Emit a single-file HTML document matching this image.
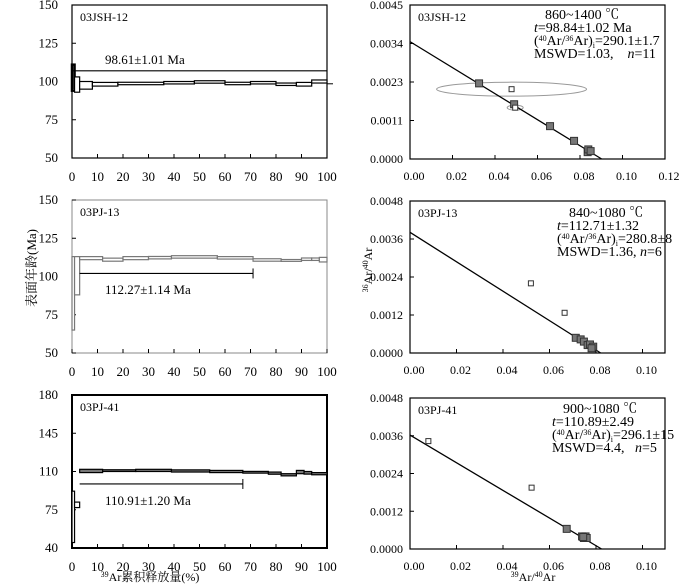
<!DOCTYPE html>
<html><head><meta charset="utf-8">
<style>
html,body{margin:0;padding:0;background:#fff;}
svg{display:block;font-family:"Liberation Serif","Noto Serif CJK SC",serif;}
</style></head>
<body>
<svg id="c" width="700" height="584" viewBox="0 0 700 584" xmlns="http://www.w3.org/2000/svg">
<text x="36" y="268" font-size="13" text-anchor="middle" transform="rotate(-90 36 268)" font-family="Liberation Serif,Noto Serif CJK SC,serif">表面年龄(Ma)</text>
<text x="372" y="270" font-size="12" text-anchor="middle" transform="rotate(-90 372 270)"><tspan font-size="8" dy="-4">36</tspan><tspan dy="4">Ar/</tspan><tspan font-size="8" dy="-4">40</tspan><tspan dy="4">Ar</tspan></text>
<text x="150" y="581" font-size="12" text-anchor="middle"><tspan font-size="8" dy="-4">39</tspan><tspan dy="4">Ar累积释放量(%)</tspan></text>
<text x="533" y="581" font-size="12" text-anchor="middle"><tspan font-size="8" dy="-4">39</tspan><tspan dy="4">Ar/</tspan><tspan font-size="8" dy="-4">40</tspan><tspan dy="4">Ar</tspan></text>
</svg>
<script>
// ---- Spectrum data ----
const spec1Bounds=[0,1,3,8,18,36,48,60,70,80,88,94,100];
const spec1Ages=[102.5,98,97.5,98.2,98.7,99.2,99.7,98.7,99.2,98.2,98.2,100];
const spec1Errs=[8.5,5,2.5,1.2,0.8,0.8,0.8,0.8,0.8,0.8,1.2,1];
const spec1Ticks=[50,75,100,125,150];
const spec1Plateau=[0,100,107];
const spec3Bounds=[0,1,3,12,20,30,39,57,71,82,90,94,97,100];
const spec3Ages=[89,100.5,112,111,112,112.3,112.8,112.2,110.8,110.5,111.3,111.3,111];
const spec3Errs=[24,12.5,1,1,1,0.8,0.8,0.8,0.8,0.6,0.8,0.8,1.5];
const spec3Ticks=[50,75,100,125,150];
const spec3Plateau=[3,71,102];
const spec5Bounds=[0,1,3,12,25,39,54,67,77,82,88,91,94,100];
const spec5Ages=[68.5,79.5,110.5,110.8,111,110.5,110,109.3,108.5,107,109.5,108.8,108];
const spec5Errs=[23.5,2.5,1.5,0.8,1,1,1,0.8,1,1,1.5,1.2,1];
const spec5Ticks=[40,75,110,145,180];
const spec5Plateau=[3,67,98.6];
const specXTicks=[0,10,20,30,40,50,60,70,80,90,100];
// ---- Isochron data ----
const iso2X=[0.0325,0.0478,0.049,0.0495,0.0659,0.0772,0.0836,0.0839,0.085];
const iso2Y=[0.00221,0.00204,0.0016,0.0015,0.00096,0.00053,0.0002,0.00028,0.00023];
const iso2Open=[0,1,0,1,0,0,0,0,0];
const iso2Line=[0.00343,0.0902];
const iso2XTicks=[0,0.02,0.04,0.06,0.08,0.10,0.12];
const iso2YTicks=[0,0.0011,0.0023,0.0034,0.0045];
const iso4X=[0.052,0.0665,0.0713,0.0734,0.0748,0.0764,0.0774,0.0788,0.0781];
const iso4Y=[0.0022,0.00127,0.00048,0.00043,0.00036,0.00025,0.00027,0.0002,0.00015];
const iso4Open=[1,1,0,0,0,0,0,0,0];
const iso4Line=[0.00381,0.082];
const iso6X=[0.0079,0.0523,0.0674,0.074,0.0748,0.0755,0.076,0.0745];
const iso6Y=[0.00343,0.00195,0.00064,0.0004,0.00035,0.0004,0.00035,0.00038];
const iso6Open=[1,1,0,0,0,0,0,0];
const iso6Line=[0.00362,0.0824];
const isoXTicks46=[0,0.02,0.04,0.06,0.08,0.10];
const isoYTicks46=[0,0.0012,0.0024,0.0036,0.0048];

const NS='http://www.w3.org/2000/svg';
const svg=document.getElementById('c');
function mk(tag,attrs,parent){const e=document.createElementNS(NS,tag);for(const k in attrs)e.setAttribute(k,attrs[k]);(parent||svg).appendChild(e);return e;}
function txt(x,y,s,size,anchor,parent){const t=mk('text',{x:x,y:y,'font-size':size,'text-anchor':anchor||'start'},parent);t.textContent=s;return t;}

function spectrum(o){
  const g=mk('g',{});
  
  
  const L=72,R=327,T=o.top,B=o.bot;
  const ymin=o.ticks[0],ymax=o.ticks[o.ticks.length-1];
  const sx=v=>L+(v/100)*(R-L);
  const sy=v=>B-(v-ymin)/(ymax-ymin)*(B-T);
  const fr=mk('rect',{x:L,y:T,width:R-L,height:B-T,fill:'none',stroke:o.frame,'stroke-width':o.fw},g);
  
  
  o.ticks.forEach(v=>{
    mk('line',{x1:L,x2:L+4,y1:sy(v),y2:sy(v),stroke:'#000'},g);
    const t=txt(L-14,sy(v)+4,String(v),13,'end',g);
    
    
  });
  specXTicks.forEach(v=>{
    mk('line',{x1:sx(v),x2:sx(v),y1:B,y2:B-4,stroke:'#000'},g);
    const t=txt(sx(v),B+23,String(v),13,'middle',g);
    
    
  });
  for(let i=0;i<o.ages.length;i++){
    const x0=sx(o.bounds[i]),x1=sx(o.bounds[i+1]);
    const r=mk('rect',{x:x0,y:sy(o.ages[i]+o.errs[i]),width:Math.max(x1-x0,1),height:sy(o.ages[i]-o.errs[i])-sy(o.ages[i]+o.errs[i]),fill:i<2?'#fff':o.fill,stroke:o.stroke,'stroke-width':i===0&&o.first?2.5:1.2},g);
    
    
  }
  const p=o.plateau, py=sy(p[2]);
  const pl=mk('line',{x1:sx(p[0]),x2:sx(p[1]),y1:py,y2:py,stroke:'#000','stroke-width':1.2},g);
  
  
  if(o.caps){mk('line',{x1:sx(p[1]),x2:sx(p[1]),y1:py-5,y2:py+5,stroke:'#000'},g);}
  if(o.ext){mk('line',{x1:R,x2:R+6,y1:sy(98.5),y2:sy(98.5),stroke:'#000'},g);}
  const st=txt(o.lx,o.ly,o.label,13,'start',g);
  
  
  const sn=txt(80,T+16,o.sample,12,'start',g);
  
  
}

function isochron(o){
  const g=mk('g',{});
  
  
  const L=410,R=665,T=o.top,B=o.bot;
  const sx=v=>L+v/0.02*o.px;
  const ymax=o.yt[o.yt.length-1];
  const sy=v=>B-v/ymax*(B-T);
  const fr=mk('rect',{x:L,y:T,width:R-L,height:B-T,fill:'none',stroke:'#000','stroke-width':1.2},g);
  
  
  o.yt.forEach((v,i)=>{
    const y=o.even?B-i/(o.yt.length-1)*(B-T):sy(v);
    mk('line',{x1:L,x2:L+4,y1:y,y2:y,stroke:'#000'},g);
    const t=txt(L-7,y+4,v.toFixed(4),12,'end',g);
    
    
  });
  o.xt.forEach(v=>{
    mk('line',{x1:sx(v),x2:sx(v),y1:B,y2:B-4,stroke:'#000'},g);
    const t=txt(sx(v)+4,B+21,v.toFixed(2),12,'middle',g);
    
    
  });
  if(o.ell){o.ell.forEach(e=>{mk('ellipse',{cx:sx(o.xs[e[0]]),cy:sy(o.ys[e[0]]),rx:e[1],ry:e[2],fill:'none',stroke:'#999'},g);});}
  const ln=mk('line',{x1:L,y1:sy(o.line[0]),x2:sx(o.line[1]),y2:B,stroke:'#000','stroke-width':1.3},g);
  
  
  o.xs.forEach((x,i)=>{
    const open=o.open[i];
    const s=open?5:7;
    const r=mk('rect',{x:sx(x)-s/2,y:sy(o.ys[i])-s/2,width:s,height:s,fill:open?'#fff':'#777',stroke:'#333','stroke-width':1},g);
    
    
  });
  const sn=txt(418,T+16,o.sample,12,'start',g);
  
  
  const tb=mk('g',{'font-size':14},g);
  
  
  o.lines.forEach((h,i)=>{const t=mk('text',{x:o.tx+(i===0?o.t0:0),y:o.ty+i*13},tb);t.innerHTML=h;});
}

spectrum({name:'spectrum-03JSH-12',top:5,bot:158,ticks:spec1Ticks,bounds:spec1Bounds,ages:spec1Ages,errs:spec1Errs,plateau:spec1Plateau,fill:'#fff',stroke:'#000',frame:'#000',fw:1.2,first:true,ext:true,lx:105,ly:64,label:'98.61±1.01 Ma',sample:'03JSH-12'});
spectrum({name:'spectrum-03PJ-13',top:200,bot:353,ticks:spec3Ticks,bounds:spec3Bounds,ages:spec3Ages,errs:spec3Errs,plateau:spec3Plateau,fill:'#fff',stroke:'#777',frame:'#888',fw:1,caps:true,lx:105,ly:294,label:'112.27±1.14 Ma',sample:'03PJ-13'});
spectrum({name:'spectrum-03PJ-41',top:395,bot:548,ticks:spec5Ticks,bounds:spec5Bounds,ages:spec5Ages,errs:spec5Errs,plateau:spec5Plateau,fill:'#777',stroke:'#000',frame:'#000',fw:2,caps:true,lx:105,ly:505,label:'110.91±1.20 Ma',sample:'03PJ-41'});

isochron({name:'isochron-03JSH-12',top:5,bot:159,px:42.5,even:true,xt:iso2XTicks,yt:iso2YTicks,xs:iso2X,ys:iso2Y,open:iso2Open,line:iso2Line,ell:[[1,75,7],[3,8,2.5]],sample:'03JSH-12',tx:534,ty:19,t0:11,
 lines:['860~1400 ℃','<tspan font-style="italic">t</tspan>=98.84±1.02 Ma','(<tspan font-size="8" dy="-4">40</tspan><tspan dy="4">Ar/</tspan><tspan font-size="8" dy="-4">36</tspan><tspan dy="4">Ar)</tspan><tspan font-size="8" dy="3">i</tspan><tspan dy="-3">=290.1±1.7</tspan>','MSWD=1.03,&#160;&#160;&#160; <tspan font-style="italic">n</tspan>=11']});
isochron({name:'isochron-03PJ-13',top:201,bot:353,px:46.5,xt:isoXTicks46,yt:isoYTicks46,xs:iso4X,ys:iso4Y,open:iso4Open,line:iso4Line,sample:'03PJ-13',tx:557,ty:217,t0:12,
 lines:['840~1080 ℃','<tspan font-style="italic">t</tspan>=112.71±1.32','(<tspan font-size="8" dy="-4">40</tspan><tspan dy="4">Ar/</tspan><tspan font-size="8" dy="-4">36</tspan><tspan dy="4">Ar)</tspan><tspan font-size="8" dy="3">i</tspan><tspan dy="-3">=280.8±8</tspan>','MSWD=1.36, <tspan font-style="italic">n</tspan>=6']});
isochron({name:'isochron-03PJ-41',top:398,bot:549,px:46.5,xt:isoXTicks46,yt:isoYTicks46,xs:iso6X,ys:iso6Y,open:iso6Open,line:iso6Line,sample:'03PJ-41',tx:552,ty:413,t0:11,
 lines:['900~1080 ℃','<tspan font-style="italic">t</tspan>=110.89±2.49','(<tspan font-size="8" dy="-4">40</tspan><tspan dy="4">Ar/</tspan><tspan font-size="8" dy="-4">36</tspan><tspan dy="4">Ar)</tspan><tspan font-size="8" dy="3">i</tspan><tspan dy="-3">=296.1±15</tspan>','MSWD=4.4,&#160;&#160; <tspan font-style="italic">n</tspan>=5']});
</script>
</body></html>
